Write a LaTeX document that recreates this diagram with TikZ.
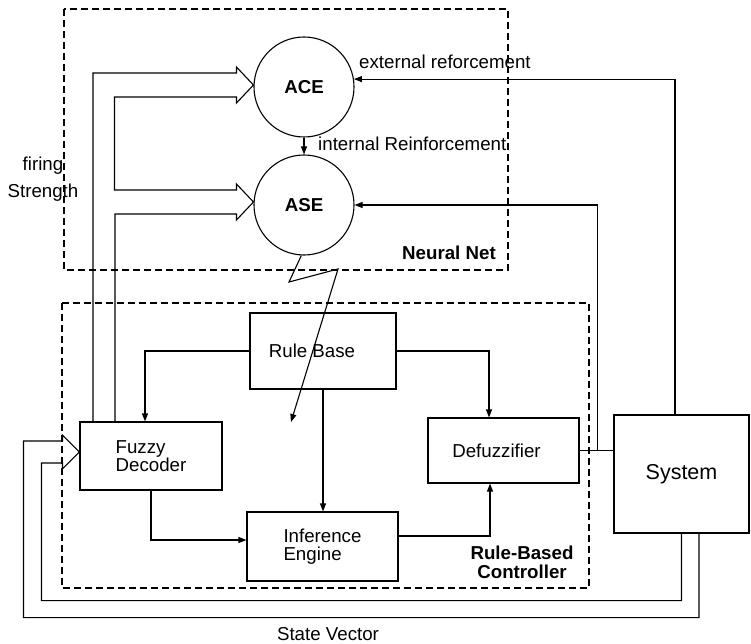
\documentclass[tikz,border=0pt]{standalone}
\usepackage{fontspec}
\setmainfont{Liberation Sans}
\usetikzlibrary{arrows.meta,calc}
\begin{document}
\begin{tikzpicture}[x=1pt,y=-1pt,
  txt/.style={font=\fontsize{18.7}{18}\selectfont},
  box/.style={draw,line width=1.1pt,inner sep=0pt,txt},
  unit/.style={draw,circle,line width=1.1pt,minimum size=100pt,inner sep=0pt,
               font=\fontsize{18.7}{20}\selectfont\bfseries},
  wire/.style={line width=1.1pt,line join=miter},
  flow/.style={wire,-{Triangle[length=8pt,width=6pt]}},
  group/.style={line width=1.1pt,dash pattern=on 7pt off 4pt},
  tag/.style={font=\fontsize{18.7}{19}\selectfont\bfseries,align=center,inner sep=0pt},
  lbl/.style={txt,inner sep=0pt}]

\useasboundingbox (0,0) rectangle (751,644);

% dashed groupings
\draw[group] (64,9) rectangle (508,270);
\draw[group] (62,303) rectangle (589,588);

% neural net units
\node[unit] (ace) at (304,87) {ACE};
\node[unit] (ase) at (304,205) {ASE};

% controller blocks
\node[box,minimum width=146pt,minimum height=76pt,
      label={[lbl,xshift=-11pt]center:Rule Base}] (rb) at (323,351) {};
\node[box,minimum width=142pt,minimum height=68pt,align=left] (fd) at (151,456) {Fuzzy\\Decoder};
\node[box,minimum width=151pt,minimum height=69pt,align=left] (ie) at (322.5,546.5) {Inference\\Engine};
\node[box,minimum width=151pt,minimum height=65pt,
      label={[lbl,xshift=-7pt]center:Defuzzifier}] (df) at (503.5,450.5) {};
\node[box,minimum width=135pt,minimum height=118pt,
      font=\fontsize{21.5}{24}\selectfont] (sys) at (681.5,474) {System};

% tips of the hollow block arrows
\coordinate (T1) at ($(ace.west)+(0,-2)$);
\coordinate (T2) at ($(ase.west)+(0,-3)$);
\coordinate (T3) at ($(fd.west)+(0,-4)$);

% firing strength: block arrows from the fuzzy decoder into ACE and ASE
\draw[wire] ($(fd.north)+(-58,0)$) |- ($(T1)+(-17,-12)$) -- ++(0,-6) -- (T1)
  -- ($(T1)+(-17,18)$) -- ++(0,-6) -| ($(T2)+(-139,-12)$)
  -- ($(T2)+(-17,-12)$) -- ++(0,-6) -- (T2)
  -- ($(T2)+(-17,18)$) -- ++(0,-6) -| ($(fd.north)+(-36,0)$);

% state vector: block arrow from the system back into the fuzzy decoder
\draw[wire] (sys.south) -- ++(0,67) -| ($(T3)+(-38,11)$) -- ++(21,0) -- ++(0,6) -- (T3)
  -- ($(T3)+(-17,-17)$) -- ++(0,6) -- ++(-39,0)
  |- ($(sys.south)+(17.5,84)$) -- ($(sys.south)+(17.5,0)$);

% reinforcement signals
\draw[flow] ($(sys.north)+(-6.5,0)$) |- (ace.9);
\draw[flow] (ace.south) -- (ase.north);
\coordinate (br) at ($(df.east)+(18,0)$);
\draw[wire] (df.east) -- (df.east -| sys.west);
\draw[flow] (br) |- (ase.east);

% ASE adjusting the rule base
\coordinate (bolt) at (291,422);
\draw[flow] (ase.-93) -- (289,282) -- (338,269) -- (bolt);

% controller internal flow
\draw[flow] (rb.west) -| ($(fd.north)+(-6,0)$);
\draw[flow] (rb.east) -| ($(df.north)+(-14.5,0)$);
\draw[flow] (rb.south) -- (rb.south |- ie.north);
\draw[flow] (fd.south) |- ($(ie.west)+(0,-6.5)$);
\draw[flow] ($(ie.east)+(0,-10.5)$) -| ($(df.south)+(-13.5,0)$);

% labels
\node[lbl,anchor=west] (extlbl) at (359,62) {external reforcement};
\node[lbl,anchor=west] (intlbl) at (318,144) {internal Reinforcement};
\node[tag] (nnlbl) at (449,253) {Neural Net};
\node[tag] (rbclbl) at (522,562) {Rule-Based\\Controller};
\node[lbl] (svlbl) at (328,634) {State Vector};
\node[lbl,align=center,font=\fontsize{18.7}{27}\selectfont] (fslbl) at (43,179) {firing\\Strength};
\end{tikzpicture}
\end{document}
